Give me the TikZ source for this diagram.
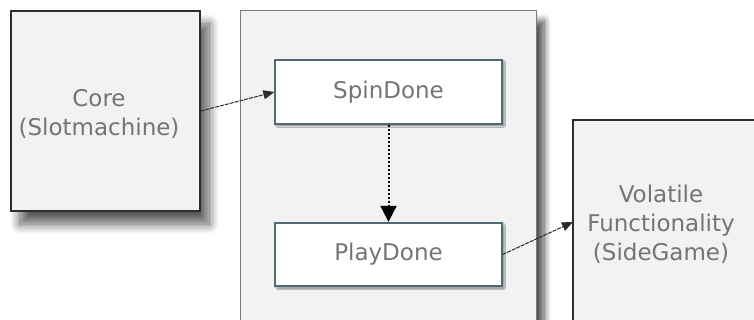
\documentclass[tikz,border=0pt]{standalone}
\usepackage{fontspec}
\setmainfont{DejaVu Sans}
\usetikzlibrary{shadows.blur,arrows.meta}
\definecolor{boxfill}{HTML}{F2F2F2}
\definecolor{labelgray}{HTML}{747474}
\definecolor{stepedge}{HTML}{4F6A72}
\definecolor{groupedge}{HTML}{7C7C7C}
\definecolor{moduleedge}{HTML}{2E2E2E}
\definecolor{wire}{HTML}{2A2A2A}

\begin{document}
\begin{tikzpicture}[x=1pt,y=-1pt,
  labeltext/.style={text=labelgray, font=\fontsize{23}{29}\selectfont, align=center, inner sep=0pt},
  module/.style={draw=moduleedge, line width=1.2pt, fill=boxfill, inner sep=0pt,
    blur shadow={shadow xshift=9pt, shadow yshift=-13pt, shadow blur radius=10pt,
      shadow blur steps=12, shadow opacity=65}},
  groupbox/.style={draw=groupedge, line width=1pt, fill=boxfill, inner sep=0pt,
    blur shadow={shadow xshift=8pt, shadow yshift=-10pt, shadow blur radius=7pt,
      shadow blur steps=10, shadow opacity=70}},
  stepbox/.style={draw=stepedge, line width=1.3pt, fill=white, inner sep=0pt,
    labeltext, minimum width=227pt,
    blur shadow={shadow xshift=2pt, shadow yshift=-2pt, shadow blur radius=1.5pt, shadow opacity=45}},
  flow/.style={draw=wire, line width=1pt, dash pattern=on 4pt off 1pt,
    -{Triangle[length=11pt,width=9pt]}},
  trigger/.style={draw=black, line width=2pt, dotted,
    -{Triangle[length=16pt,width=16pt]}, shorten >=0.5pt}
]
\useasboundingbox (0,0) rectangle (754,320);
\clip (0,0) rectangle (754,320);

% outer modules
\node[module, minimum width=189pt, minimum height=200pt] (core) at (105.5,111) {};
\node[labeltext] (coretext) at (99,114) {Core\\(Slotmachine)};

\node[groupbox, minimum width=296pt, minimum height=340pt] (group) at (388,181) {};

\node[module, minimum width=217pt, minimum height=230pt] (vol) at (681.5,235) {};
\node[labeltext] (voltext) at (661,224) {Volatile\\Functionality\\(SideGame)};
\coordinate (volin) at (573,222);

% events inside the group
\node[stepbox, minimum height=64pt] (spin) at (388.5,92) {SpinDone};
\node[stepbox, minimum height=63pt] (play) at (388.5,254.5) {PlayDone};

% connectors
\draw[flow] (core.east) -- (spin.west);
\draw[trigger] (spin.south) -- (play.north);
\draw[flow] (play.east) -- (volin);
\end{tikzpicture}
\end{document}
